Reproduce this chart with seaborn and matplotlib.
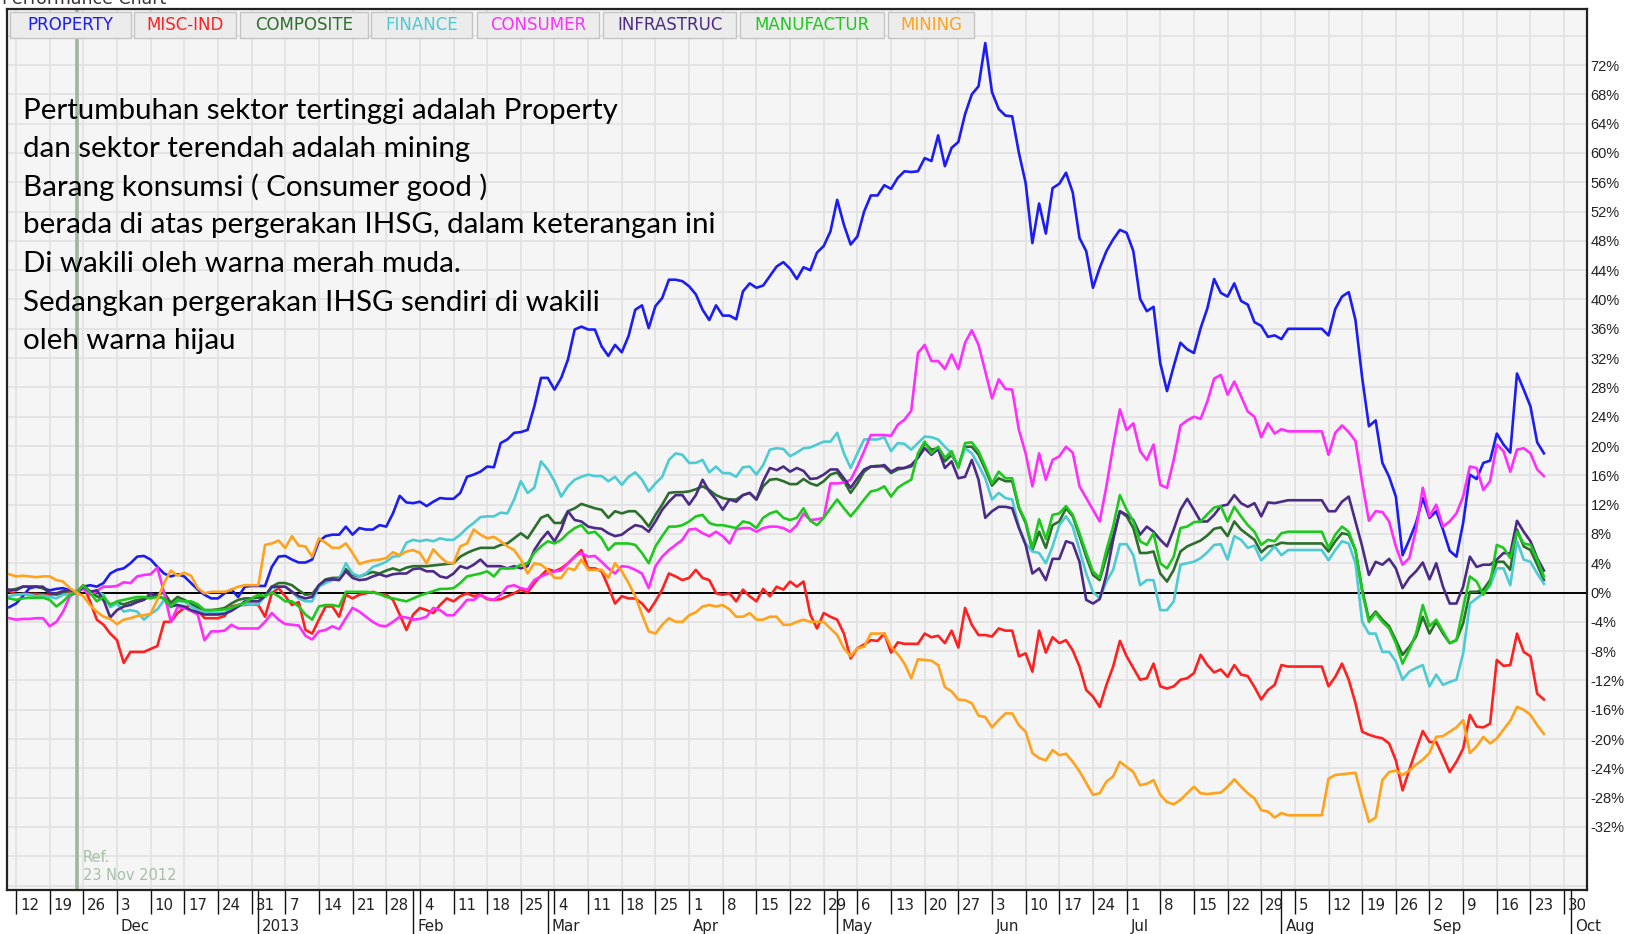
import numpy as np
import pandas as pd
import matplotlib
matplotlib.use("Agg")
import matplotlib.pyplot as plt
import matplotlib.transforms as mtransforms
from matplotlib.patches import Rectangle
import seaborn as sns

# ---------------- data ----------------
# x axis = trading-day index; 0 = Mon 12 Nov 2012, first point (-1) = Fri 9 Nov 2012
axis_start = "2012-11-12"
first_day = -1
ref_day = 9                      # 23 Nov 2012 (reference date)
ref_label = "Ref.\n23 Nov 2012"

series_names = ["PROPERTY", "MISC-IND", "COMPOSITE", "FINANCE",
                "CONSUMER", "INFRASTRUC", "MANUFACTUR", "MINING"]
series_colors = ["#1c1cf5", "#ff2020", "#2c6e2c", "#4ccbd2",
                 "#ff2eff", "#4b2b86", "#1ec81e", "#ffa21c"]

property_pct = [
    -2.0, -1.5, -0.5, 0.6, 0.8, 0.6, 0.3, 0.5, 0.6, 0.3,
    0.0, 0.8, 1.0, 0.8, 1.3, 2.6, 3.1, 3.3, 4.0, 4.9,
    5.0, 4.5, 3.5, 2.6, 2.2, 2.5, 2.2, 1.3, 0.4, -0.3,
    -0.8, -0.8, -0.1, 0.4, -0.6, 0.8, 0.9, 0.9, 0.9, 3.5,
    4.9, 5.0, 4.5, 4.1, 4.1, 4.5, 7.0, 7.7, 7.9, 7.9,
    9.0, 7.9, 8.8, 8.6, 8.6, 9.2, 9.0, 10.8, 13.2, 12.3,
    12.2, 12.4, 11.8, 12.4, 12.9, 12.8, 12.8, 13.6, 15.8, 16.1,
    16.5, 17.2, 17.1, 20.4, 20.9, 21.8, 21.9, 22.2, 25.4, 29.3,
    29.3, 27.7, 29.3, 31.8, 35.9, 36.3, 35.9, 35.9, 33.6, 32.3,
    33.8, 32.8, 35.0, 38.6, 39.2, 36.1, 39.1, 40.2, 42.7, 42.7,
    42.5, 41.8, 40.7, 38.6, 37.2, 39.2, 37.8, 37.8, 37.3, 41.1,
    42.2, 41.6, 41.9, 43.2, 44.5, 45.1, 44.2, 42.8, 44.4, 44.0,
    46.4, 47.3, 49.3, 53.6, 50.2, 47.5, 48.6, 52.0, 54.2, 54.2,
    55.6, 55.1, 56.6, 57.5, 57.4, 57.5, 59.3, 58.9, 62.4, 58.2,
    60.7, 61.5, 65.3, 68.0, 69.1, 75.0, 68.3, 66.0, 65.1, 65.0,
    60.0, 55.9, 47.7, 53.1, 49.0, 55.2, 55.8, 57.3, 54.6, 48.4,
    46.6, 41.6, 44.3, 46.6, 48.2, 49.5, 49.1, 46.6, 40.1, 38.4,
    39.0, 31.3, 27.5, 30.9, 34.1, 33.2, 32.7, 36.1, 38.8, 42.8,
    40.9, 40.4, 42.2, 39.8, 39.3, 36.9, 36.4, 34.9, 35.1, 34.6,
    36.0, 36.0, 36.0, 36.0, 36.0, 36.0, 35.1, 38.7, 40.4, 41.0,
    37.2, 29.3, 22.7, 23.5, 17.7, 15.8, 13.1, 5.1, 7.2, 9.5,
    12.9, 10.2, 11.1, 8.6, 5.7, 4.9, 9.5, 16.1, 15.5, 17.7,
    18.0, 21.7, 20.2, 19.1, 29.9, 27.7, 25.4, 20.5, 19.0,
]

misc_ind_pct = [
    0.2, -0.3, -0.2, -0.2, -0.2, -0.3, -0.3, -0.2, 0.0, 0.0,
    0.0, 1.0, -1.2, -3.7, -4.4, -5.6, -6.5, -9.6, -8.1, -8.1,
    -8.1, -7.7, -7.3, -4.0, -4.0, -2.8, -2.1, -1.7, -2.4, -3.5,
    -3.5, -3.5, -3.2, -1.9, -1.7, -1.7, -1.6, -1.7, -3.3, -0.1,
    0.6, -0.5, -1.7, -1.3, -5.1, -5.6, -3.7, -1.9, -1.9, -3.3,
    -0.3, -0.8, -0.3, -0.1, 0.1, -0.2, -0.3, -1.0, -3.0, -5.1,
    -3.0, -2.1, -2.4, -2.8, -1.7, -0.8, -1.2, -0.5, -0.1, -0.5,
    -0.3, -0.9, -1.0, -0.9, -0.5, -0.1, 0.4, 0.0, 1.3, 2.3,
    3.2, 2.9, 3.3, 4.0, 4.9, 5.8, 3.3, 3.3, 2.9, 0.8,
    -1.5, -0.5, -0.8, -0.8, -1.5, -2.6, -1.2, 0.4, 2.6, 2.2,
    1.7, 2.0, 3.1, 2.0, 1.7, -0.1, -0.3, -0.1, -1.2, 0.4,
    -0.5, -1.2, 0.5, -0.5, 0.8, 0.4, 1.5, 0.8, 1.5, -3.0,
    -4.9, -2.8, -3.3, -3.7, -5.6, -9.0, -7.6, -7.1, -6.5, -6.6,
    -5.6, -8.2, -6.8, -7.0, -7.0, -7.0, -5.6, -6.1, -5.9, -6.9,
    -5.2, -7.5, -2.1, -4.4, -5.8, -5.8, -6.0, -4.9, -5.2, -5.2,
    -8.7, -8.3, -10.8, -5.2, -8.2, -6.1, -6.9, -6.5, -7.9, -10.1,
    -13.3, -14.2, -15.6, -12.6, -10.1, -6.6, -8.7, -10.3, -11.9, -11.7,
    -9.7, -12.8, -13.1, -12.8, -11.9, -11.7, -11.0, -8.5, -9.9, -10.9,
    -10.5, -11.5, -9.9, -11.2, -11.4, -12.9, -14.6, -13.3, -12.6, -9.9,
    -10.1, -10.1, -10.1, -10.1, -10.1, -10.1, -12.8, -11.5, -9.7, -11.9,
    -15.1, -19.0, -19.4, -19.7, -19.9, -20.6, -22.9, -27.0, -24.2, -21.5,
    -18.9, -20.4, -20.4, -22.4, -24.5, -23.1, -21.3, -16.7, -18.3, -18.4,
    -17.9, -9.2, -10.0, -9.9, -5.6, -8.1, -8.7, -13.8, -14.6,
]

composite_pct = [
    0.3, 0.5, 0.8, 0.8, 0.8, 0.6, 0.0, -0.3, 0.0, 0.3,
    0.0, 0.9, 0.2, -0.5, -1.0, -1.6, -1.4, -1.6, -1.3, -1.0,
    -0.9, -0.6, -0.3, 0.0, -1.4, -0.6, -1.0, -1.5, -2.0, -2.4,
    -2.4, -2.3, -2.1, -1.5, -1.0, -0.8, -0.8, -0.7, -0.5, 0.8,
    1.3, 1.3, 1.0, 0.3, -0.3, -0.2, 1.0, 1.8, 2.0, 2.0,
    3.2, 2.4, 2.2, 2.5, 2.8, 2.6, 3.0, 3.3, 3.0, 3.4,
    3.6, 3.6, 3.6, 3.7, 3.8, 3.9, 4.0, 4.9, 5.4, 5.8,
    6.1, 6.1, 6.1, 6.5, 6.7, 7.4, 8.1, 7.4, 8.8, 10.2,
    10.6, 9.5, 9.5, 11.1, 11.5, 12.1, 11.8, 11.5, 11.3, 10.2,
    11.1, 10.8, 11.1, 11.1, 10.2, 9.0, 10.6, 12.0, 13.6, 13.7,
    13.7, 13.8, 14.1, 14.5, 14.0, 13.3, 12.9, 12.7, 12.7, 13.3,
    13.6, 12.7, 14.5, 15.4, 15.5, 15.2, 14.8, 14.8, 15.5, 14.9,
    14.6, 15.2, 16.1, 16.4, 15.2, 13.6, 14.9, 16.5, 17.2, 17.3,
    17.2, 16.3, 16.8, 17.0, 17.2, 18.4, 20.4, 19.5, 19.7, 17.9,
    18.8, 17.2, 19.9, 19.9, 18.8, 16.8, 14.6, 15.6, 15.2, 15.2,
    11.5, 9.5, 5.8, 8.3, 6.1, 9.2, 9.7, 11.5, 10.4, 7.7,
    4.9, 2.4, 1.7, 4.9, 7.7, 11.1, 10.4, 8.8, 5.4, 5.4,
    5.6, 2.6, 1.5, 3.1, 5.6, 6.3, 6.7, 7.1, 7.8, 8.7,
    8.9, 7.7, 9.7, 8.6, 7.9, 7.2, 5.5, 6.3, 6.4, 6.8,
    6.7, 6.7, 6.7, 6.7, 6.7, 6.7, 5.6, 7.0, 8.1, 7.9,
    5.8, 0.4, -3.7, -2.6, -3.7, -4.6, -6.5, -8.5, -7.4, -6.0,
    -3.3, -5.6, -4.0, -5.6, -6.9, -6.5, -4.2, 0.1, 0.1, 0.4,
    1.7, 4.2, 4.2, 3.1, 8.6, 6.3, 5.8, 3.8, 1.7,
]

finance_pct = [
    -0.5, -0.3, -0.2, -0.3, -0.5, -0.4, -0.6, -0.8, -0.3, -0.2,
    0.0, 0.6, -0.1, 0.1, -0.3, -2.0, -1.5, -2.6, -2.4, -2.6,
    -3.7, -2.9, -2.3, -1.0, -2.0, -1.2, -1.2, -1.9, -2.4, -2.8,
    -2.8, -2.8, -2.8, -2.1, -1.9, -1.6, -1.6, -1.6, -0.5, 0.6,
    0.8, 0.8, 0.1, -0.8, -1.2, -1.2, 0.8, 1.3, 1.7, 1.8,
    4.0, 2.6, 2.2, 2.6, 3.5, 3.8, 4.2, 4.9, 5.0, 6.8,
    7.2, 7.0, 7.2, 7.0, 7.4, 7.2, 7.2, 7.9, 8.8, 9.5,
    10.3, 10.4, 10.4, 10.9, 10.8, 12.7, 15.2, 13.6, 14.3, 17.9,
    16.8, 15.2, 13.1, 14.5, 15.4, 15.8, 16.1, 15.9, 15.9, 15.2,
    15.8, 14.7, 15.8, 16.4, 15.4, 13.8, 14.9, 15.8, 18.1, 19.0,
    18.8, 17.7, 17.7, 18.1, 16.4, 17.2, 16.3, 16.3, 15.8, 17.1,
    17.2, 16.1, 17.4, 19.5, 19.7, 19.6, 18.6, 19.1, 19.7, 19.8,
    20.2, 20.6, 20.6, 21.8, 19.0, 17.0, 19.0, 20.9, 20.9, 20.9,
    21.2, 19.3, 20.4, 20.3, 19.5, 20.4, 21.3, 21.2, 20.9, 19.9,
    19.0, 17.2, 19.7, 19.0, 17.4, 15.6, 12.7, 13.6, 12.9, 12.7,
    9.0, 6.7, 5.6, 5.4, 4.0, 6.3, 9.2, 10.4, 9.0, 5.8,
    2.6, 0.1, -0.8, 1.5, 3.1, 6.6, 6.6, 5.1, 1.0, 1.7,
    1.7, -2.4, -2.4, -1.2, 3.8, 4.0, 4.2, 4.7, 5.5, 6.5,
    6.6, 4.5, 7.7, 7.2, 6.1, 6.4, 4.4, 5.3, 6.3, 5.1,
    5.8, 5.8, 5.8, 5.8, 5.8, 5.8, 4.4, 5.8, 7.0, 6.7,
    4.0, -4.0, -5.6, -5.6, -8.1, -8.1, -9.4, -11.9, -10.8, -10.3,
    -9.9, -12.8, -11.2, -12.6, -12.2, -11.9, -8.3, -1.5, -0.8, -0.1,
    0.9, 3.3, 3.3, 1.0, 7.0, 4.5, 4.2, 2.6, 1.2,
]

consumer_pct = [
    -3.5, -3.7, -3.6, -3.6, -3.5, -3.5, -4.6, -4.0, -2.6, -0.5,
    0.0, 0.5, -0.3, 0.2, 0.8, 0.8, 0.9, 1.4, 1.3, 2.2,
    2.4, 2.5, 3.4, 0.0, -4.0, -2.0, -2.1, -2.5, -3.0, -6.5,
    -5.3, -5.3, -5.2, -4.4, -4.9, -4.9, -4.9, -4.9, -4.0, -2.8,
    -3.7, -4.3, -4.4, -4.5, -5.9, -6.4, -5.3, -5.1, -4.6, -5.0,
    -3.5, -2.1, -2.6, -3.3, -4.0, -4.5, -4.6, -4.0, -3.3, -3.4,
    -3.7, -3.6, -3.3, -2.1, -2.4, -3.1, -3.1, -2.1, -1.0, -1.0,
    -0.3, -0.8, -1.0, -0.3, 0.8, 1.0, 0.6, 0.4, 1.7, 2.2,
    2.6, 2.9, 3.0, 4.0, 4.9, 5.4, 4.9, 5.0, 4.2, 3.3,
    2.6, 3.6, 3.5, 3.1, 2.6, 0.6, 3.6, 4.9, 5.8, 6.5,
    7.2, 8.6, 8.7, 8.1, 7.7, 8.3, 7.7, 6.7, 8.6, 8.8,
    8.8, 8.3, 8.8, 9.0, 9.0, 8.8, 8.3, 9.2, 10.8, 9.9,
    10.0, 10.2, 14.9, 14.9, 15.0, 15.4, 17.2, 19.3, 21.5, 21.5,
    21.5, 21.4, 22.9, 23.6, 24.8, 32.7, 33.8, 31.6, 31.6, 30.5,
    32.5, 30.5, 34.1, 35.8, 33.8, 30.2, 26.5, 29.1, 27.8, 27.7,
    22.2, 19.0, 14.5, 19.0, 15.4, 18.1, 18.6, 19.9, 19.1, 14.5,
    12.9, 11.3, 9.7, 14.5, 20.0, 25.0, 22.2, 23.1, 19.3, 18.1,
    20.2, 14.7, 14.3, 18.1, 22.8, 23.5, 24.0, 23.7, 26.1, 29.2,
    29.7, 27.0, 28.8, 26.8, 24.7, 24.0, 21.2, 23.1, 21.7, 22.3,
    22.0, 22.0, 22.0, 22.0, 22.0, 22.0, 18.8, 21.8, 22.8, 21.9,
    20.7, 15.0, 9.8, 11.1, 11.0, 9.7, 6.3, 3.8, 4.7, 8.6,
    14.3, 10.4, 12.0, 9.0, 9.7, 10.8, 13.1, 17.2, 17.0, 14.0,
    15.2, 20.2, 19.3, 16.5, 19.5, 19.7, 19.0, 16.8, 15.9,
]

infrastruc_pct = [
    0.4, 0.3, 0.8, 0.8, 0.8, 0.8, -0.1, -0.1, 0.2, 0.4,
    0.0, 0.8, 0.1, 0.3, -1.0, -3.4, -2.4, -1.9, -1.7, -1.3,
    -1.0, -0.1, -0.5, -0.8, -1.9, -1.7, -1.9, -2.4, -2.7, -3.0,
    -3.0, -3.0, -2.9, -2.5, -1.9, -1.2, -1.2, -1.2, -0.5, 0.8,
    0.8, 0.8, 0.1, -0.5, -0.8, -0.6, 1.0, 1.7, 1.8, 1.7,
    2.9, 2.0, 1.7, 1.8, 2.2, 2.5, 2.2, 2.5, 2.6, 2.6,
    3.2, 3.3, 2.9, 2.9, 2.2, 2.0, 2.6, 3.6, 3.3, 3.8,
    4.5, 3.6, 3.6, 3.6, 3.3, 3.6, 3.3, 3.6, 5.8, 7.2,
    8.3, 7.0, 8.6, 11.1, 9.9, 9.7, 9.0, 8.8, 8.7, 8.1,
    7.7, 7.9, 8.6, 9.2, 9.0, 8.3, 9.7, 11.3, 12.4, 13.3,
    13.3, 12.0, 13.3, 15.4, 13.8, 12.7, 11.3, 12.7, 12.4, 13.3,
    13.6, 12.7, 15.2, 17.0, 16.7, 17.2, 16.5, 17.0, 16.6, 15.5,
    15.6, 16.1, 16.8, 16.8, 15.6, 14.3, 15.6, 16.8, 17.2, 17.2,
    17.4, 16.5, 17.0, 17.0, 17.4, 18.4, 19.7, 18.8, 19.6, 17.0,
    17.9, 15.6, 15.8, 18.1, 15.4, 10.2, 11.1, 11.7, 11.7, 11.5,
    8.8, 6.5, 2.6, 3.3, 1.7, 4.6, 4.6, 7.0, 6.7, 4.2,
    -1.0, -1.5, -0.9, 2.4, 7.2, 11.1, 10.6, 9.9, 7.9, 9.0,
    8.3, 7.2, 6.3, 8.6, 11.3, 12.8, 11.3, 9.7, 9.7, 10.6,
    11.8, 12.0, 13.3, 12.2, 11.7, 12.2, 10.4, 12.3, 12.2, 12.4,
    12.6, 12.6, 12.6, 12.6, 12.6, 12.6, 11.1, 11.1, 12.4, 13.1,
    9.7, 6.3, 2.4, 4.2, 3.8, 4.6, 3.3, 0.6, 2.0, 2.9,
    4.1, 1.8, 4.0, 0.8, -1.5, -1.5, 0.8, 4.9, 3.5, 3.8,
    3.8, 4.5, 5.4, 5.3, 9.8, 8.3, 7.0, 4.7, 3.0,
]

manufactur_pct = [
    -0.8, -1.0, -0.8, -0.7, -0.7, -0.7, -1.0, -1.9, -1.2, -0.3,
    0.0, 1.0, 0.0, -1.2, -0.6, -1.7, -1.2, -1.0, -0.8, -0.6,
    -0.6, -0.8, -0.6, -0.8, -1.9, -1.0, -1.2, -1.2, -1.6, -2.4,
    -2.4, -2.4, -2.3, -2.1, -1.7, -1.4, -0.8, -0.3, -0.5, 0.0,
    -0.5, -1.2, -1.2, -1.9, -3.0, -3.7, -1.9, -1.7, -1.7, -1.9,
    0.1, 0.1, 0.1, 0.1, 0.0, -0.2, -0.6, -0.8, -1.0, -1.2,
    -0.8, -0.4, -0.1, 0.2, 0.5, 0.5, 0.6, 1.3, 2.2, 2.4,
    2.6, 2.9, 2.2, 3.3, 3.3, 3.3, 3.8, 4.0, 5.4, 6.3,
    7.0, 6.7, 7.2, 8.1, 8.8, 9.2, 8.1, 8.3, 7.4, 5.8,
    6.7, 6.7, 6.7, 6.5, 5.4, 4.0, 6.3, 7.7, 9.0, 9.0,
    9.2, 9.7, 10.4, 10.6, 9.5, 9.2, 9.2, 9.0, 8.8, 9.7,
    9.5, 8.8, 10.2, 10.8, 11.1, 10.2, 9.9, 10.2, 11.5, 9.8,
    9.2, 10.2, 11.5, 12.7, 11.5, 10.4, 11.5, 12.7, 13.8, 14.0,
    14.5, 13.1, 14.3, 14.9, 15.4, 19.0, 20.6, 19.0, 19.9, 18.4,
    19.3, 17.0, 20.4, 20.5, 19.3, 17.2, 14.9, 16.5, 15.6, 15.6,
    11.7, 9.7, 6.1, 10.0, 7.3, 10.6, 10.8, 11.8, 10.6, 8.1,
    5.4, 2.9, 2.0, 5.8, 9.0, 13.3, 11.3, 9.7, 7.0, 6.5,
    8.1, 4.0, 3.3, 4.9, 8.8, 9.0, 9.6, 9.7, 10.7, 11.6,
    11.8, 9.7, 11.7, 10.4, 9.2, 8.3, 6.5, 7.2, 7.0, 8.1,
    8.3, 8.3, 8.3, 8.3, 8.3, 8.3, 6.1, 7.9, 9.0, 8.3,
    5.8, 0.1, -4.0, -2.8, -4.0, -4.9, -6.9, -9.7, -7.8, -5.6,
    -1.7, -4.6, -3.7, -5.3, -6.9, -6.5, -2.1, 2.2, 1.5, -0.3,
    1.3, 6.5, 6.1, 4.7, 8.3, 6.7, 6.5, 4.5, 2.2,
]

mining_pct = [
    2.5, 2.2, 2.3, 2.2, 2.1, 2.2, 2.2, 1.7, 1.5, 0.6,
    0.0, -0.5, -1.7, -2.6, -3.3, -3.6, -4.3, -3.7, -3.5, -3.2,
    -3.1, -2.9, -1.0, 1.3, 3.0, 2.3, 2.7, 2.3, 0.6, -0.1,
    0.1, 0.1, 0.1, 0.4, 0.8, 1.0, 1.0, 1.0, 6.5, 6.7,
    7.1, 6.1, 7.7, 6.4, 6.3, 4.9, 7.4, 6.8, 6.1, 6.1,
    6.7, 5.4, 3.9, 4.2, 4.4, 4.5, 4.7, 5.5, 5.1, 5.6,
    5.8, 5.4, 4.0, 5.9, 4.9, 4.1, 4.0, 6.3, 6.7, 8.6,
    7.9, 7.4, 7.6, 7.0, 6.3, 5.8, 4.5, 2.6, 4.0, 3.8,
    3.1, 2.0, 2.0, 3.3, 3.1, 4.5, 3.1, 3.1, 3.1, 2.0,
    4.0, 2.9, 1.3, -0.5, -3.0, -5.3, -5.6, -4.4, -3.5, -4.0,
    -4.0, -3.1, -2.7, -1.9, -1.7, -1.9, -1.7, -2.3, -3.3, -3.3,
    -2.8, -3.7, -3.7, -3.3, -3.3, -4.4, -4.4, -4.0, -3.7, -4.0,
    -4.0, -4.0, -4.9, -5.8, -7.6, -8.7, -7.6, -7.4, -5.6, -5.6,
    -5.6, -7.4, -8.4, -9.7, -11.7, -9.1, -9.2, -9.3, -9.9, -12.9,
    -13.5, -14.6, -14.7, -15.1, -16.8, -17.0, -18.4, -17.4, -16.5, -16.5,
    -18.1, -19.0, -21.9, -22.6, -22.9, -21.5, -22.2, -22.0, -23.1, -24.4,
    -26.0, -27.6, -27.4, -25.8, -25.1, -23.1, -23.8, -24.5, -26.3, -26.1,
    -25.6, -27.6, -28.6, -28.9, -28.3, -27.4, -26.5, -27.4, -27.5, -27.4,
    -27.3, -26.5, -25.5, -26.5, -27.4, -28.1, -29.7, -29.9, -30.7, -30.1,
    -30.4, -30.4, -30.4, -30.4, -30.4, -30.4, -25.4, -24.9, -24.8, -24.7,
    -24.6, -28.1, -31.3, -30.7, -25.6, -24.5, -24.3, -24.9, -24.3, -23.5,
    -22.8, -21.9, -19.7, -19.6, -19.0, -18.4, -17.4, -21.9, -21.0, -19.7,
    -20.6, -19.9, -18.7, -17.5, -15.6, -16.0, -16.7, -18.1, -19.3,
]

annotation_lines = [
    "Pertumbuhan sektor tertinggi adalah Property",
    "dan sektor terendah adalah mining",
    "Barang konsumsi ( Consumer good )",
    "berada di atas pergerakan IHSG, dalam keterangan ini",
    "Di wakili oleh warna merah muda.",
    "Sedangkan pergerakan IHSG sendiri di wakili",
    "oleh warna hijau",
]
chart_title = "Performance Chart"
y_label_values = list(range(-32, 73, 4))
n_week_ticks = 47
month_starts = ["2012-12-01", "2013-01-01", "2013-02-01", "2013-03-01",
                "2013-04-01", "2013-05-01", "2013-06-01", "2013-07-01",
                "2013-08-01", "2013-09-01", "2013-10-01"]
month_labels = ["Dec", "2013", "Feb", "Mar", "Apr", "May", "Jun",
                "Jul", "Aug", "Sep", "Oct"]

# ---------------- build long table ----------------
all_values = [property_pct, misc_ind_pct, composite_pct, finance_pct,
              consumer_pct, infrastruc_pct, manufactur_pct, mining_pct]
frames = []
for name, vals in zip(series_names, all_values):
    frames.append(pd.DataFrame({
        "day": np.arange(len(vals)) + first_day,
        "pct": vals,
        "series": name,
    }))
df = pd.concat(frames, ignore_index=True)
palette = dict(zip(series_names, series_colors))

# ---------------- figure ----------------
W, H = 1628, 934
fig = plt.figure(figsize=(W / 100, H / 100), dpi=100)
fig.patch.set_facecolor("white")
ax_l, ax_r, ax_t, ax_b = 7, 1587, 9, 890
ax = fig.add_axes([ax_l / W, 1 - ax_b / H, (ax_r - ax_l) / W, (ax_b - ax_t) / H])
ax.set_facecolor("#f5f5f5")

sns.lineplot(data=df, x="day", y="pct", hue="series", hue_order=series_names,
             palette=palette, estimator=None, linewidth=1.9, legend=False,
             ax=ax, zorder=3)

ax.set_xlim(-1.34, 233.4)
ax.set_ylim(-40.6, 79.65)

# grid
week_pos = np.arange(n_week_ticks) * 5
ax.set_xticks(week_pos)
ax.set_yticks(np.arange(-40, 80, 4))
ax.grid(True, which="major", color="#e3e3e3", linewidth=1.3)
ax.set_axisbelow(True)
ax.axhline(0, color="black", linewidth=1.4, zorder=2.5)
ax.axvline(ref_day, color="#9db79d", linewidth=2.6, zorder=2.4)

for s in ax.spines.values():
    s.set_color("#222222")
    s.set_linewidth(1.6)

# y labels on the right
ax.yaxis.tick_right()
ax.set_yticklabels([f"{v}%" if v in y_label_values else "" for v in np.arange(-40, 80, 4)])
ax.tick_params(axis="y", length=0, pad=2.5, labelsize=10.5, labelcolor="#222222")
for t in ax.get_yticklabels():
    t.set_fontfamily("Liberation Sans")

# x ticks: weekly short ticks + month long ticks
month_pos = [int(np.busday_count(axis_start, np.busday_offset(m, 0, roll="forward")))
             for m in month_starts]
ax.set_xticks(month_pos, minor=True)
ax.tick_params(axis="x", which="major", direction="out", length=17, width=1.0,
               color="#111111", labelbottom=False)
ax.tick_params(axis="x", which="minor", direction="out", length=33, width=1.0,
               color="#111111", labelbottom=False)
ax.set_xlabel("")
ax.set_ylabel("")

blend = mtransforms.blended_transform_factory(ax.transData, fig.transFigure)
lab_tr = mtransforms.offset_copy(blend, fig=fig, x=4, y=0, units="dots")
week_dates = np.datetime64(axis_start) + np.arange(n_week_ticks) * 7
for p, d in zip(week_pos, week_dates):
    day_num = int(str(d)[8:10])
    fig.text(p, 1 - 906 / H, str(day_num), transform=lab_tr, ha="left",
             va="center", fontsize=10.8, color="#222222", family="DejaVu Sans")
for p, lab in zip(month_pos, month_labels):
    fig.text(p, 1 - 926.5 / H, lab, transform=lab_tr, ha="left",
             va="center", fontsize=10.8, color="#222222", family="DejaVu Sans")

# reference label
ref_tr = mtransforms.offset_copy(ax.transData, fig=fig, x=6, y=0, units="dots")
ax.text(ref_day, -37.4, ref_label, transform=ref_tr, ha="left", va="center",
        fontsize=10.5, color="#a7bea7", linespacing=1.25, family="DejaVu Sans")

# legend boxes across the top
box_px = [(10.4, 130.8), (133.9, 235.7), (239.8, 367.6), (370.7, 472.4),
          (476.6, 599.1), (603.2, 736.2), (740.3, 883.6), (887.8, 974.0)]
by0, by1 = 12.5, 38.4
for (x0, x1), name, col in zip(box_px, series_names, series_colors):
    fig.patches.append(Rectangle((x0 / W, 1 - by1 / H), (x1 - x0) / W, (by1 - by0) / H,
                                 transform=fig.transFigure, facecolor="#ececec",
                                 edgecolor="#c4c4c4", linewidth=1.0, zorder=5))
    fig.text((x0 + x1) / 2 / W, 1 - (by0 + by1) / 2 / H, name, ha="center", va="center",
             fontsize=12, color=col, family="DejaVu Sans", zorder=6)

# title (clipped at the top, as in the reference)
fig.text(2 / W, 1 - 4 / H, chart_title, ha="left", va="baseline", fontsize=12.5,
         color="#333333", family="DejaVu Sans")

# annotation text
line_y = [111.5, 149, 187.5, 225.5, 264, 302.5, 340.5]
texts = []
for yy, line in zip(line_y, annotation_lines):
    texts.append(fig.text(23 / W, 1 - yy / H, line, ha="left", va="center",
                          fontsize=20, color="black", family="Lato", zorder=7))
fig.canvas.draw()
rend = fig.canvas.get_renderer()
w_now = texts[3].get_window_extent(rend).width
scale = 692.0 / w_now
for t in texts:
    t.set_fontsize(20 * scale)

fig.savefig("out.png", dpi=100, facecolor="white")
